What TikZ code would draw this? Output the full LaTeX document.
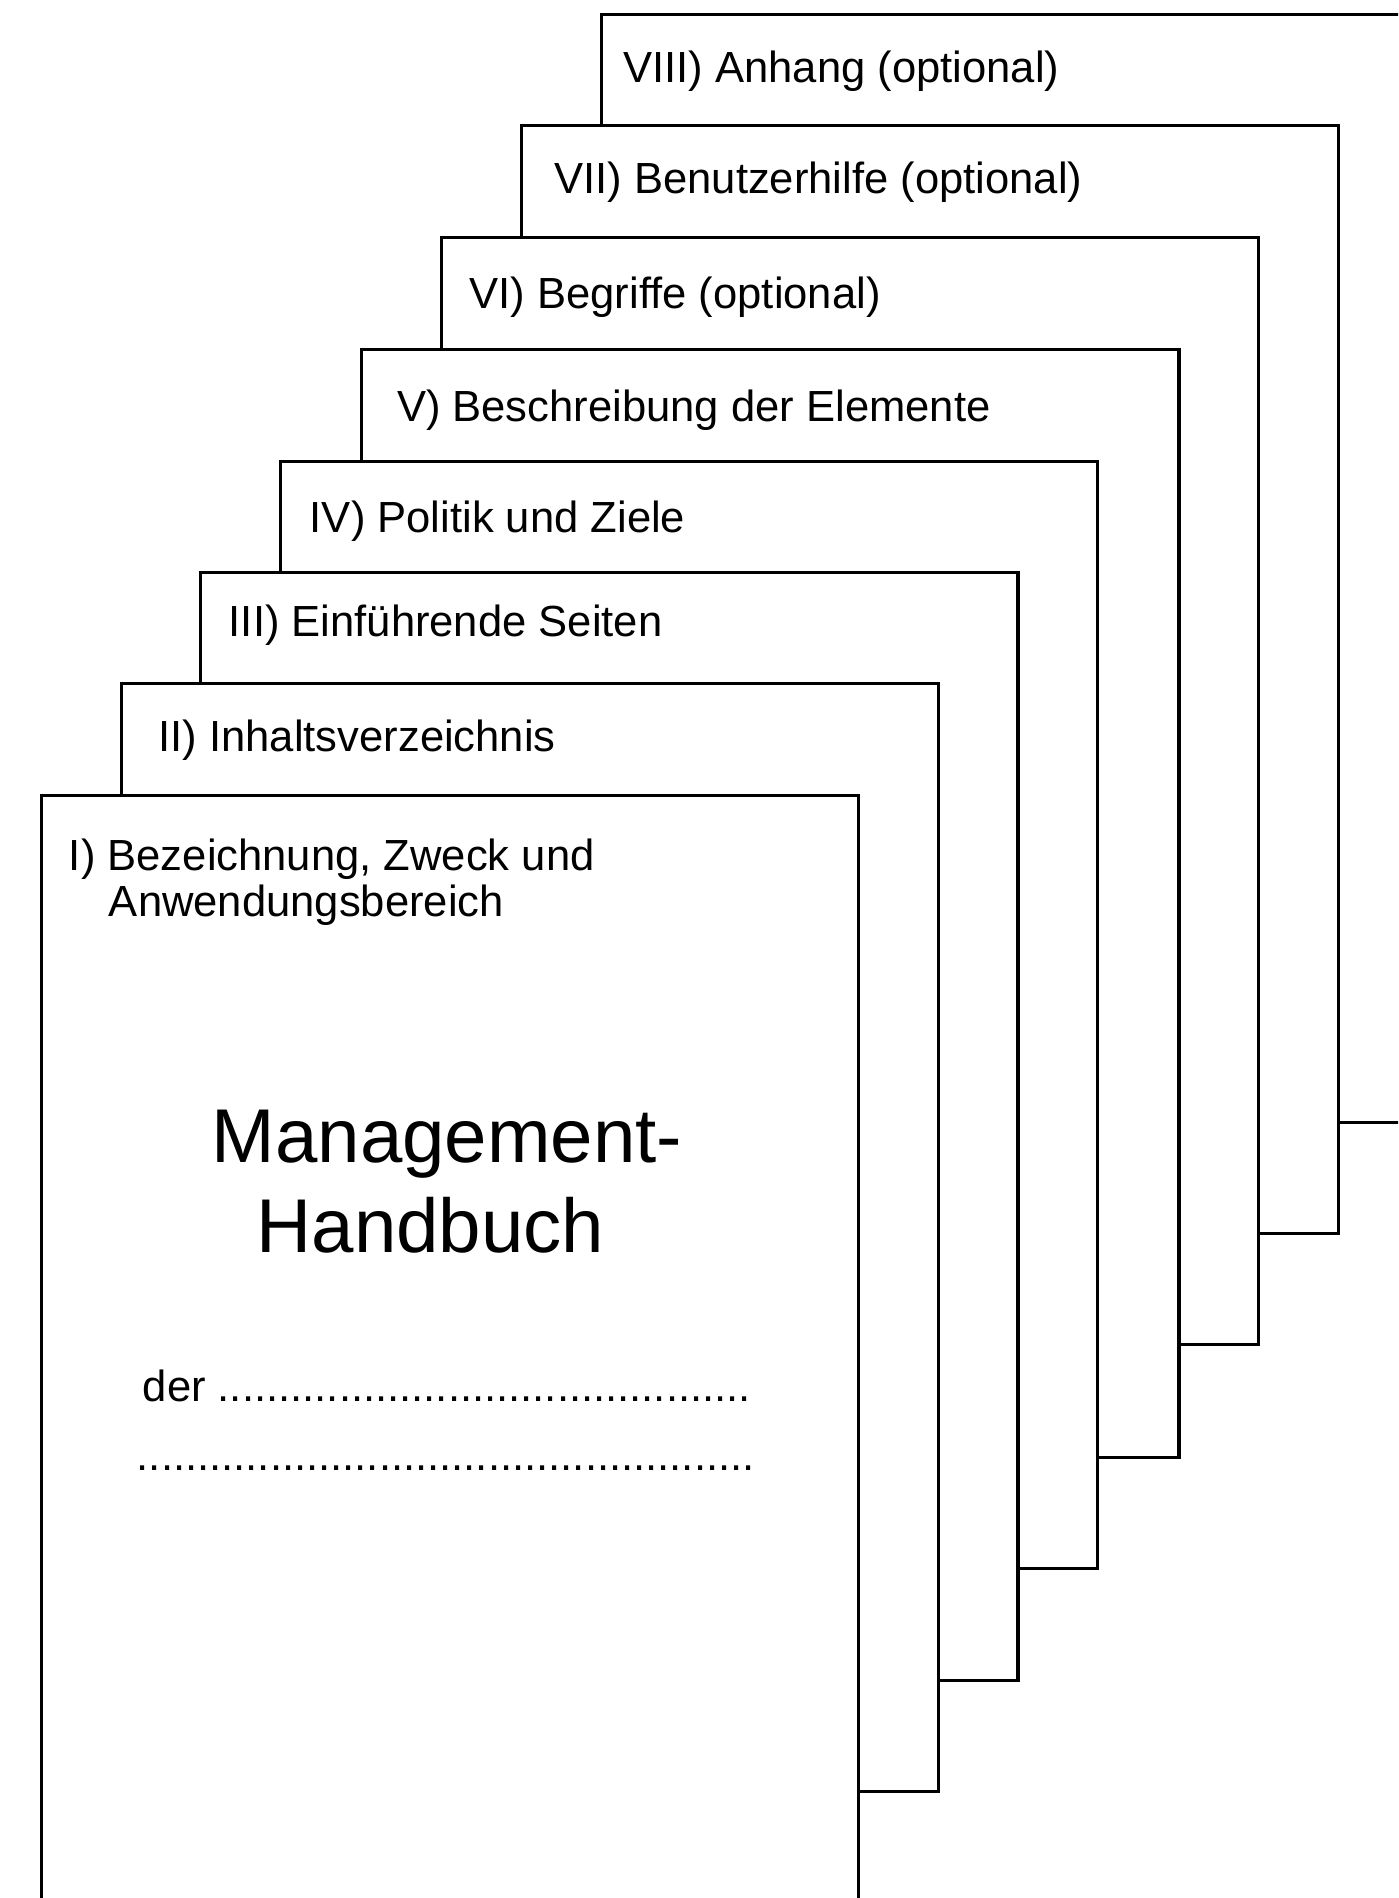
\documentclass[tikz,border=0pt]{standalone}
\usepackage{fontspec}
\setmainfont{Liberation Sans}
\def\tendots{..........}
\begin{document}
\begin{tikzpicture}[x=1pt,y=-1pt,
  page/.style={draw=black, fill=white, line width=2.5pt, anchor=north west,
               minimum width=675pt, minimum height=915pt, inner sep=0pt, outer sep=0pt},
  lbl/.style={anchor=base west, inner sep=0pt, outer sep=0pt, font=\fontsize{36}{38}\selectfont},
  ttl/.style={anchor=base west, inner sep=0pt, outer sep=0pt, font=\fontsize{63}{70}\selectfont},
]
\useasboundingbox (0,0) rectangle (1155,1568);
\clip (0,0) rectangle (1155,1568);
\fill[white] (0,0) rectangle (1155,1568);
% pages, back to front
\node[page] (p8) at (497,12) {};
\node[lbl] (t8) at (515,68) {VIII) Anhang (optional)};
\node[page] (p7) at (431,104) {};
\node[lbl] (t7) at (458,160) {VII) Benutzerhilfe (optional)};
\node[page] (p6) at (365,196) {};
\node[lbl] (t6) at (388,255) {VI) Begriffe (optional)};
\node[page] (p5) at (299,289) {};
\node[lbl] (t5) at (328,348) {V) Beschreibung der Elemente};
\node[page] (p4) at (232,381) {};
\node[lbl] (t4) at (256,440) {IV) Politik und Ziele};
\node[page] (p3) at (166,473) {};
\node[lbl] (t3) at (189,526) {III) Einführende Seiten};
\node[page] (p2) at (100,565) {};
\node[lbl] (t2) at (131,621) {II) Inhaltsverzeichnis};
\node[page] (p1) at (34,657) {};
\node[lbl] (t1a) at (57,719) {I) Bezeichnung, Zweck und};
\node[lbl] (t1b) at (90,757) {Anwendungsbereich};
% title
\node[ttl] (m1) at (175,960) {Management-};
\node[ttl] (m2) at (212,1035) {Handbuch};
% dotted lines
\node[lbl] (d1) at (118,1158) {der \tendots\tendots\tendots\tendots....};
\node[lbl] (d2) at (113,1215) {\tendots\tendots\tendots\tendots\tendots.};
\end{tikzpicture}
\end{document}
